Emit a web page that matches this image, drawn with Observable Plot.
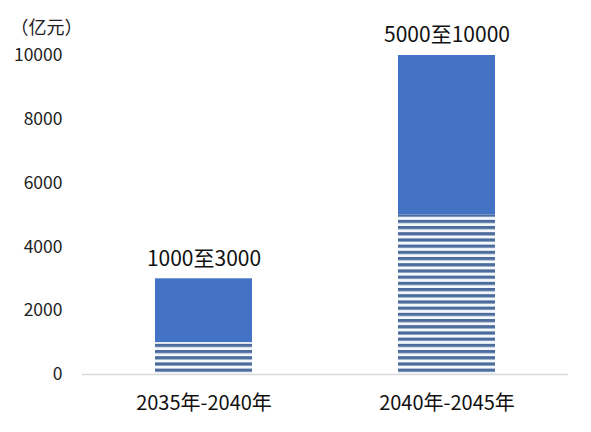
<!DOCTYPE html>
<html>
<head>
<meta charset="utf-8">
<script src="https://cdn.jsdelivr.net/npm/d3@7"></script>
<script src="https://cdn.jsdelivr.net/npm/@observablehq/plot@0.6"></script>
<style>
  html, body { margin: 0; padding: 0; background: #fff; }
  #chart svg { display: block; }
</style>
</head>
<body>
<div id="chart"></div>
<script>
const categories = ["2035年-2040年", "2040年-2045年"];
const lowValues = [1000, 5000];
const highValues = [3000, 10000];
const rangeLabels = ["1000至3000", "5000至10000"];
const yTicks = [0, 2000, 4000, 6000, 8000, 10000];
const unitLabel = "（亿元）";

const rows = categories.map((c, i) => ({
  cat: c, low: lowValues[i], high: highValues[i], label: rangeLabels[i]
}));

const font = "'Noto Sans CJK SC', 'Noto Sans', sans-serif";

const plot = Plot.plot({
  width: 591,
  height: 432,
  marginLeft: 82,
  marginRight: 23,
  marginTop: 55,
  marginBottom: 58,
  style: { fontFamily: font, background: "#fff", color: "#222" },
  x: { domain: categories, paddingInner: 0.6, paddingOuter: 0.3, label: null },
  y: { domain: [0, 10000], label: null },
  marks: [
    Plot.barY(rows, { x: "cat", y1: 0, y2: "low", fill: "url(#stripes)" }),
    Plot.barY(rows, { x: "cat", y1: "low", y2: "high", fill: "#4472C4" }),
    Plot.ruleY([0], { stroke: "#d9d9d9", strokeWidth: 1.5 }),
    Plot.text(rows, { x: "cat", y: "high", text: "label", dy: -20, fontSize: 21, fill: "#111" }),
    Plot.axisY({ ticks: yTicks, tickSize: 0, tickPadding: 20, tickFormat: d => String(d), fontSize: 17.5, fill: "#222" }),
    Plot.axisX({ tickSize: 0, tickPadding: 21, fontSize: 20, fill: "#111" }),
    Plot.text([unitLabel], { frameAnchor: "top-left", dx: -72, dy: -34, textAnchor: "start", fontSize: 18, fill: "#222" })
  ]
});

const svg = d3.select(plot);
const defs = svg.insert("defs", ":first-child");
const pat = defs.append("pattern")
  .attr("id", "stripes")
  .attr("patternUnits", "userSpaceOnUse")
  .attr("x", 0).attr("y", 2.8)
  .attr("width", 10).attr("height", 6.2);
pat.append("rect").attr("x", 0).attr("y", 0).attr("width", 10).attr("height", 6.2).attr("fill", "#f4f8fc");
pat.append("rect").attr("x", 0).attr("y", 0).attr("width", 10).attr("height", 3.2).attr("fill", "#4b6c9c");

document.getElementById("chart").appendChild(plot);
</script>
</body>
</html>
